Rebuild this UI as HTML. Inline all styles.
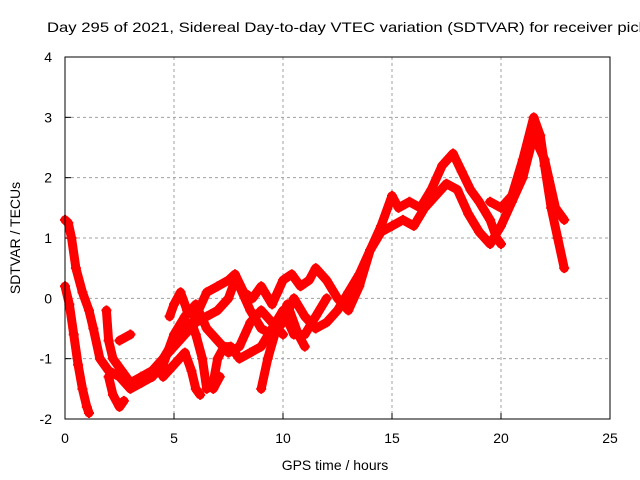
<!DOCTYPE html>
<html><head><meta charset="utf-8"><style>
body{margin:0;background:#fff}
svg{display:block;font-family:"Liberation Sans",sans-serif}
</style></head><body>
<svg id="c" width="640" height="480">
<rect width="640" height="480" fill="#fff"/>
</svg>
<script>
const xTicks=[0,5,10,15,20,25];
const yTicks=[-2,-1,0,1,2,3,4];
const sA=[[0,0.2],[0.2,-0.1],[0.4,-0.6],[0.6,-1.1],[0.8,-1.5],[1.0,-1.8],[1.1,-1.9]];
const sB=[[0,1.3],[0.15,1.25],[0.3,1.0],[0.5,0.5],[0.8,0.1],[1.1,-0.2],[1.3,-0.5],[1.6,-1.0],[2,-1.2],[2.5,-1.3],[3,-1.5],[3.5,-1.4],[4,-1.3],[4.5,-1.1],[5,-0.6],[5.5,-0.3],[6,-0.1],[6.5,-0.5],[7,-0.7],[7.5,-0.9],[8,-0.8],[8.5,-0.4],[9,-0.2],[9.5,-0.4],[10,-0.6]];
const sC=[[1.9,-0.2],[2,-0.7],[2.2,-1.0],[2.6,-1.2],[3,-1.4],[3.5,-1.3],[4,-1.2],[4.5,-1.0],[5,-0.8],[5.5,-0.6],[6,-0.4],[6.5,-0.3],[7,-0.2],[7.5,0],[7.8,0.3],[8,0.2],[8.5,-0.2],[9,-0.5],[9.5,-0.6],[10,-0.4],[10.5,0.0],[11,-0.3],[11.5,-0.5],[12,-0.4],[12.5,-0.2],[13,0.1],[13.5,0.4],[14,0.8],[14.5,1.1],[15,1.2],[15.5,1.3],[16,1.2],[16.5,1.5],[17,1.7],[17.5,1.9],[18,1.8],[18.5,1.4],[19,1.1],[19.5,0.9],[20,1.2],[20.5,1.6],[21,2.0],[21.5,2.7],[22,2.3],[22.5,1.5],[22.9,1.3]];
const sD=[[19.5,1.6],[20,1.5],[20.5,1.7],[21,2.3],[21.5,3.0],[21.8,2.7],[22,2.2],[22.3,1.5],[22.6,1.0],[22.9,0.5]];
const sE=[[2.5,-0.7],[3,-0.6]];
const sF=[[2.0,-1.3],[2.2,-1.6],[2.5,-1.8],[2.7,-1.7]];
const sG=[[4.8,-0.3],[5,-0.1],[5.3,0.1],[5.6,-0.2],[6,-0.3],[6.5,0.1],[7,0.2],[7.5,0.3],[7.8,0.4],[8.2,0.1],[8.6,0.0],[9,0.2],[9.5,-0.1],[10,0.3],[10.4,0.4],[10.8,0.2],[11.2,0.3],[11.5,0.5],[12,0.3],[12.5,0.0],[13,-0.2],[13.5,0.2],[14,0.8],[14.5,1.2],[15,1.7],[15.3,1.5],[15.8,1.6],[16.3,1.5],[16.8,1.8],[17.3,2.2],[17.8,2.4],[18.2,2.1],[18.6,1.8],[19,1.6],[19.5,1.3],[19.8,1.0],[20,0.9]];
const sH=[[3.5,-1.3],[4,-1.3],[4.5,-1.0],[5,-0.7],[5.4,-0.5],[5.8,-0.4],[6,-0.6],[6.3,-1.0],[6.5,-1.5],[6.8,-1.4],[7,-1.0],[7.3,-0.8],[7.6,-0.8],[8,-1.0],[8.5,-0.9],[9,-0.8],[9.5,-0.5],[10,-0.2],[10.5,-0.6],[11,-0.6],[11.5,-0.3],[12,0]];
const sI=[[4.5,-1.3],[5,-1.1],[5.5,-0.9],[5.8,-1.2],[6,-1.5],[6.2,-1.6]];
const sJ=[[6.8,-1.5],[7.1,-1.3]];
const sK=[[9,-1.5],[9.3,-1.0],[9.7,-0.5],[10.2,-0.1],[10.7,-0.6],[11,-0.8]];
const series=[sA,sB,sC,sD,sE,sF,sG,sH,sI,sJ,sK];

const X0=65,X1=610,Y0=419,Y1=57;
const xs=h=>X0+(h-0)/(25-0)*(X1-X0);
const ys=v=>Y0-(v+2)/6*(Y0-Y1);
const svg=document.getElementById('c');
const NS='http://www.w3.org/2000/svg';
function mk(t,a){const e=document.createElementNS(NS,t);for(const k in a)e.setAttribute(k,a[k]);svg.appendChild(e);return e;}

xTicks.forEach(t=>{const x=xs(t);
 if(t>0&&t<25){const g=mk('line',{x1:x,y1:Y1,x2:x,y2:Y0,stroke:'#a0a0a0','stroke-dasharray':'3,3'});
 
 }
 const tk=mk('line',{x1:x,y1:Y0,x2:x,y2:Y0-6,stroke:'#000'});
 
 
 const l=mk('text',{x:x,y:Y0+24,'text-anchor':'middle','font-size':14});l.textContent=t;
 
 
});
yTicks.forEach(t=>{const y=ys(t);
 if(t>-2&&t<4){const g=mk('line',{x1:X0,y1:y,x2:X1,y2:y,stroke:'#a0a0a0','stroke-dasharray':'3,3'});
 
 }
 const tk=mk('line',{x1:X0,y1:y,x2:X0+6,y2:y,stroke:'#000'});
 
 
 const l=mk('text',{x:X0-13,y:y+5,'text-anchor':'end','font-size':14});l.textContent=t;
 
 
});

series.forEach(s=>{
 const p=mk('polyline',{points:s.map(d=>xs(d[0])+','+ys(d[1])).join(' '),fill:'none',stroke:'#f00','stroke-width':9,'stroke-linejoin':'round','stroke-linecap':'round'});
 
 
 s.forEach(d=>{const x=xs(d[0]),y=ys(d[1]);
  const m=mk('path',{d:`M${x-5},${y}h10M${x},${y-5}v10`,stroke:'#f00','stroke-width':2});
  
  
 });
});

const b=mk('rect',{x:X0,y:Y1,width:X1-X0,height:Y0-Y1,fill:'none',stroke:'#000'});


const ti=mk('text',{x:47,y:32,'font-size':14,textLength:600,lengthAdjust:'spacingAndGlyphs'});ti.textContent='Day 295 of 2021, Sidereal Day-to-day VTEC variation (SDTVAR) for receiver pick';


const xl=mk('text',{x:335,y:470,'text-anchor':'middle','font-size':14});xl.textContent='GPS time / hours';


const yl=mk('text',{x:0,y:0,'text-anchor':'middle','font-size':14,transform:'translate(20,238) rotate(-90)'});yl.textContent='SDTVAR / TECUs';


</script>
</body></html>
